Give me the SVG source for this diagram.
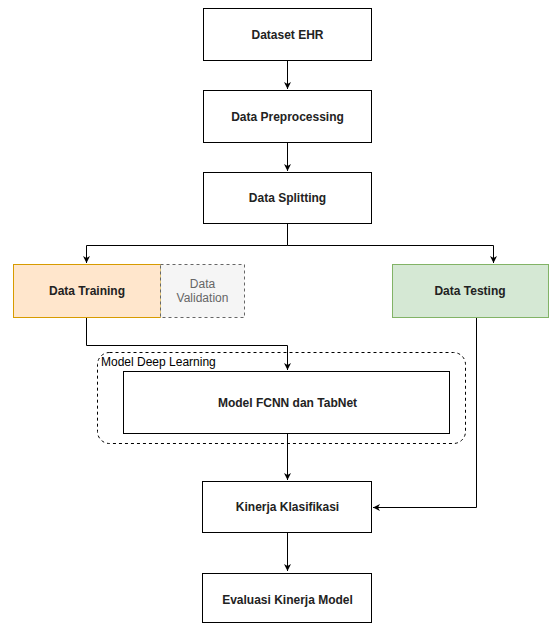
<svg xmlns="http://www.w3.org/2000/svg" width="549" height="623" viewBox="0 0 549 623">
<style>
.box{fill:#fff;stroke:#000;stroke-width:1}
.t{font-family:"Liberation Sans",Arial,sans-serif;font-size:12px;font-weight:bold;fill:#222;text-anchor:middle}
.c{fill:none;stroke:#000;stroke-width:1}
</style>
<defs>
<marker id="ah" markerWidth="8" markerHeight="8" refX="7" refY="4" orient="auto" markerUnits="userSpaceOnUse">
<path d="M0,0.5 L7,4 L0,7.5 L2,4 Z" fill="#000"/>
</marker>
</defs>
<rect width="549" height="623" fill="#fff"/>
<g id="group-deep">
<rect x="97.5" y="352.5" width="368" height="91" rx="12" fill="none" stroke="#000" stroke-dasharray="3 3"/>
<text x="101" y="366" font-family="Liberation Sans,Arial,sans-serif" font-size="12" fill="#000">Model Deep Learning</text>
</g>
<g id="connectors">
<path class="c" d="M287.5 60 V89" marker-end="url(#ah)"/>
<path class="c" d="M287.5 142 V171" marker-end="url(#ah)"/>
<path class="c" d="M287.5 223 V245.5 H86.5 V263" marker-end="url(#ah)"/>
<path class="c" d="M287.5 245.5 H493.5 V263" marker-end="url(#ah)"/>
<path class="c" d="M86.5 317 V345.5 H287.5 V370" marker-end="url(#ah)"/>
<path class="c" d="M287.5 433 V480" marker-end="url(#ah)"/>
<path class="c" d="M476.5 317 V507.5 H373" marker-end="url(#ah)"/>
<path class="c" d="M287.5 532 V571" marker-end="url(#ah)"/>
</g>
<g id="dataset"><rect class="box" x="203.5" y="8.5" width="168" height="52"/><text class="t" x="287.5" y="38.5">Dataset EHR</text></g>
<g id="preprocessing"><rect class="box" x="203.5" y="90.5" width="168" height="52"/><text class="t" x="287.5" y="120.5">Data Preprocessing</text></g>
<g id="splitting"><rect class="box" x="203.5" y="172.5" width="168" height="51"/><text class="t" x="287.5" y="202">Data Splitting</text></g>
<g id="training"><rect x="13.5" y="264.5" width="147" height="53" fill="#ffe6cc" stroke="#d79b00"/><text class="t" x="87" y="295">Data Training</text></g>
<g id="validation"><rect x="160.5" y="264.5" width="84" height="53" fill="#f5f5f5" stroke="#666" stroke-dasharray="3 3"/><text class="t" x="202.5" y="288" style="fill:#666;font-weight:normal">Data</text><text class="t" x="202.5" y="302" style="fill:#666;font-weight:normal">Validation</text></g>
<g id="testing"><rect x="392.5" y="264.5" width="156" height="53" fill="#d5e8d4" stroke="#82b366"/><text class="t" x="470" y="295">Data Testing</text></g>
<g id="fcnn"><rect class="box" x="123.5" y="371.5" width="326" height="62"/><text class="t" x="287.5" y="406.5">Model FCNN dan TabNet</text></g>
<g id="kinerja"><rect class="box" x="202.5" y="481.5" width="169" height="51"/><text class="t" x="287.5" y="511">Kinerja Klasifikasi</text></g>
<g id="evaluasi"><rect class="box" x="202.5" y="573.5" width="169" height="49"/><text class="t" x="287.5" y="604">Evaluasi Kinerja Model</text></g>
</svg>
